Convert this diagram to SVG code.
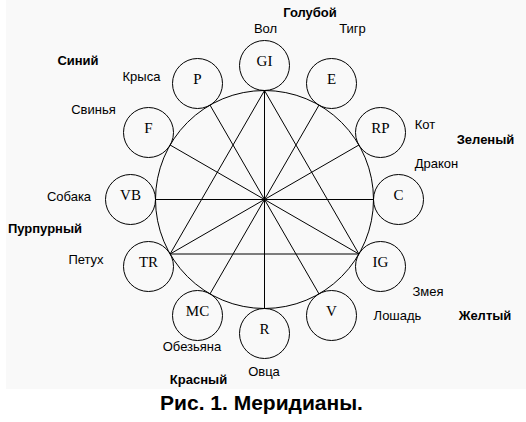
<svg xmlns="http://www.w3.org/2000/svg" width="526" height="422" viewBox="0 0 526 422">
<style>
.ln{stroke:#000;stroke-width:1;fill:none}
.nc{stroke:#000;stroke-width:1;fill:none}
.nt{font-family:"Liberation Serif","Times New Roman",serif;font-size:15px;fill:#000;text-anchor:middle}
.lb{font-family:"Liberation Sans",Arial,sans-serif;font-size:13px;fill:#000;text-anchor:middle}
.bd{font-family:"Liberation Sans",Arial,sans-serif;font-size:13px;font-weight:bold;fill:#000;text-anchor:middle}
.tt{font-family:"Liberation Sans",Arial,sans-serif;font-size:21px;font-weight:bold;fill:#000;text-anchor:middle}
</style>
<rect x="0" y="0" width="526" height="422" fill="#ffffff"/>
<rect x="6" y="0" width="520" height="389" fill="#f9f9f9"/>
<g id="connectors">
<circle class="ln" cx="264.5" cy="199.5" r="109"/>
<line class="ln" x1="264.5" y1="90.5" x2="264.5" y2="308.5"/>
<line class="ln" x1="155.5" y1="199.5" x2="373.5" y2="199.5"/>
<line class="ln" x1="319" y1="105.1" x2="210" y2="293.9"/>
<line class="ln" x1="210" y1="105.1" x2="319" y2="293.9"/>
<line class="ln" x1="358.9" y1="145" x2="170.1" y2="254"/>
<line class="ln" x1="170.1" y1="145" x2="358.9" y2="254"/>
<line class="ln" x1="264.5" y1="90.5" x2="170.1" y2="254"/>
<line class="ln" x1="264.5" y1="90.5" x2="358.9" y2="254"/>
<line class="ln" x1="170.1" y1="254" x2="358.9" y2="254"/>
</g>
<g id="GI"><circle class="nc" cx="264.5" cy="65.5" r="25"/><text class="nt" x="264.5" y="66">GI</text></g>
<g id="E"><circle class="nc" cx="331.5" cy="83.5" r="25"/><text class="nt" x="331.5" y="84">E</text></g>
<g id="RP"><circle class="nc" cx="380.5" cy="132.5" r="25"/><text class="nt" x="380.5" y="133">RP</text></g>
<g id="C"><circle class="nc" cx="398.5" cy="199.5" r="25"/><text class="nt" x="398.5" y="200">C</text></g>
<g id="IG"><circle class="nc" cx="380.5" cy="266.5" r="25"/><text class="nt" x="380.5" y="267">IG</text></g>
<g id="V"><circle class="nc" cx="331.5" cy="315.5" r="25"/><text class="nt" x="331.5" y="316">V</text></g>
<g id="R"><circle class="nc" cx="264.5" cy="333.5" r="25"/><text class="nt" x="264.5" y="334">R</text></g>
<g id="MC"><circle class="nc" cx="197.5" cy="315.5" r="25"/><text class="nt" x="197.5" y="316">MC</text></g>
<g id="TR"><circle class="nc" cx="148.5" cy="266.5" r="25"/><text class="nt" x="148.5" y="267">TR</text></g>
<g id="VB"><circle class="nc" cx="130.5" cy="199.5" r="25"/><text class="nt" x="130.5" y="200">VB</text></g>
<g id="F"><circle class="nc" cx="148.5" cy="132.5" r="25"/><text class="nt" x="148.5" y="133">F</text></g>
<g id="P"><circle class="nc" cx="197.5" cy="83.5" r="25"/><text class="nt" x="197.5" y="84">P</text></g>
<g id="labels">
<text class="bd" x="310" y="17">Голубой</text>
<text class="lb" x="265.5" y="33">Вол</text>
<text class="lb" x="352.5" y="33">Тигр</text>
<text class="lb" x="141.5" y="81">Крыса</text>
<text class="bd" x="78" y="65">Синий</text>
<text class="lb" x="93.5" y="114">Свинья</text>
<text class="lb" x="69" y="200.5">Собака</text>
<text class="bd" x="45" y="232.5">Пурпурный</text>
<text class="lb" x="86" y="264">Петух</text>
<text class="lb" x="425" y="128.7">Кот</text>
<text class="bd" x="485.5" y="144">Зеленый</text>
<text class="lb" x="436.5" y="168.3">Дракон</text>
<text class="lb" x="428" y="296">Змея</text>
<text class="lb" x="397.5" y="320">Лошадь</text>
<text class="bd" x="485" y="320">Желтый</text>
<text class="lb" x="192" y="351">Обезьяна</text>
<text class="lb" x="264" y="375.5">Овца</text>
<text class="bd" x="198.5" y="384">Красный</text>
<text class="tt" x="261.5" y="410">Рис. 1. Меридианы.</text>
</g>
</svg>
